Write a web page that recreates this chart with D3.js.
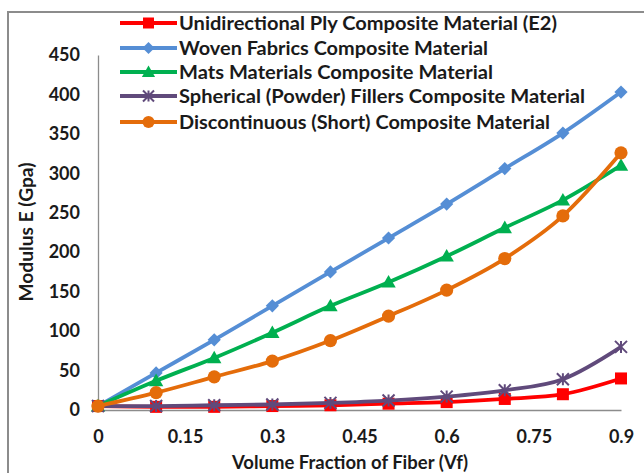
<!DOCTYPE html>
<html>
<head>
<meta charset="utf-8">
<script src="https://cdn.jsdelivr.net/npm/d3@7"></script>
<style>
  html, body { margin: 0; padding: 0; background: #fff; }
  svg { display: block; }
  text { font-family: Lato, "Open Sans", sans-serif; font-weight: bold; fill: #1a1a1a; }
</style>
</head>
<body>
<svg id="chart" width="644" height="473"></svg>
<script>
// Volume fraction of fiber (x values)
const vf = [0, 0.1, 0.2, 0.3, 0.4, 0.5, 0.6, 0.7, 0.8, 0.9];

// Modulus E (GPa) for each composite type
const unidirectional = [5, 4, 4, 5, 6, 8, 10, 14, 20, 40];
const woven = [5, 47, 89, 132, 175, 218, 261, 306, 351, 403];
const mats = [5, 37, 66, 98, 132, 162, 195, 231, 266, 310];
const spherical = [5, 5, 6, 7, 9, 12, 17, 25, 39, 80];
const discontinuous = [5, 22, 42, 62, 88, 119, 152, 192, 246, 326];

const seriesNames = [
  "Unidirectional Ply Composite Material (E2)",
  "Woven Fabrics Composite Material",
  "Mats Materials Composite Material",
  "Spherical (Powder) Fillers Composite Material",
  "Discontinuous (Short) Composite Material"
];
const seriesValues = [unidirectional, woven, mats, spherical, discontinuous];
const seriesColors = ["#ff0000", "#558ed5", "#00b050", "#604a7b", "#e46c0a"];
const seriesMarkers = ["square", "diamond", "triangle", "asterisk", "circle"];

const xTicks = [0, 0.15, 0.3, 0.45, 0.6, 0.75, 0.9];
const yTicks = [0, 50, 100, 150, 200, 250, 300, 350, 400, 450];

const FONT = 18;
const svg = d3.select("#chart");

// outer chart frame
svg.append("rect")
  .attr("x", 8).attr("y", 12)
  .attr("width", 640).attr("height", 470)
  .attr("fill", "none").attr("stroke", "#8c8c8c").attr("stroke-width", 2);

const x = d3.scaleLinear().domain([0, 0.9]).range([98, 621]);
const y = d3.scaleLinear().domain([0, 450]).range([410, 55]);

// axes
const xAxis = svg.append("g").attr("transform", `translate(0,${y(0)})`)
  .call(d3.axisBottom(x).tickValues(xTicks).tickSize(0).tickPadding(20)
    .tickFormat(d => String(+d.toFixed(2))));
const yAxis = svg.append("g").attr("transform", `translate(${x(0)},0)`)
  .call(d3.axisLeft(y).tickValues(yTicks).tickSize(0).tickPadding(18));
[xAxis, yAxis].forEach(g => {
  g.select(".domain").attr("stroke", "#8c8c8c").attr("stroke-width", 1.3);
  g.selectAll("text").style("font-size", FONT + "px").style("font-family", "Lato, sans-serif")
    .style("font-weight", "bold").attr("fill", "#1a1a1a");
});

// axis titles
svg.append("text")
  .attr("x", 350).attr("y", 469)
  .attr("text-anchor", "middle").style("font-size", FONT + "px")
  .attr("textLength", 236).attr("lengthAdjust", "spacingAndGlyphs")
  .text("Volume Fraction of Fiber (Vf)");
svg.append("text")
  .attr("transform", "translate(33,232) rotate(-90)")
  .attr("text-anchor", "middle").style("font-size", FONT + "px")
  .attr("textLength", 139).attr("lengthAdjust", "spacingAndGlyphs")
  .text("Modulus E (Gpa)");

function drawMarker(g, type, color, cx, cy, s) {
  if (type === "square") {
    g.append("rect").attr("x", cx - s / 2).attr("y", cy - s / 2)
      .attr("width", s).attr("height", s).attr("fill", color);
  } else if (type === "diamond") {
    const r = s * 0.55;
    g.append("path").attr("d", `M${cx},${cy - r}L${cx + r},${cy}L${cx},${cy + r}L${cx - r},${cy}Z`)
      .attr("fill", color);
  } else if (type === "triangle") {
    const r = s * 0.6;
    g.append("path").attr("d", `M${cx},${cy - r}L${cx + r},${cy + r * 0.75}L${cx - r},${cy + r * 0.75}Z`)
      .attr("fill", color);
  } else if (type === "asterisk") {
    const r = s * 0.5;
    g.append("path")
      .attr("d", `M${cx - r},${cy - r}L${cx + r},${cy + r}M${cx - r},${cy + r}L${cx + r},${cy - r}M${cx},${cy - r}L${cx},${cy + r}`)
      .attr("stroke", color).attr("stroke-width", 2).attr("fill", "none");
  } else if (type === "circle") {
    g.append("circle").attr("cx", cx).attr("cy", cy).attr("r", s * 0.55).attr("fill", color);
  }
}

const line = d3.line()
  .x((d, i) => x(vf[i]))
  .y(d => y(d))
  .curve(d3.curveCatmullRom.alpha(0));

seriesValues.forEach((vals, k) => {
  const g = svg.append("g");
  g.append("path").datum(vals).attr("d", line)
    .attr("fill", "none").attr("stroke", seriesColors[k])
    .attr("stroke-width", 3.8).attr("stroke-linejoin", "round");
  vals.forEach((v, i) => drawMarker(g, seriesMarkers[k], seriesColors[k], x(vf[i]), y(v), 12));
});

// legend
const legendY = [23, 48, 72, 96, 122];
const legendWidths = [378, 309, 314, 406, 371];
seriesNames.forEach((name, k) => {
  const g = svg.append("g");
  const cy = legendY[k];
  g.append("line").attr("x1", 120).attr("x2", 177).attr("y1", cy).attr("y2", cy)
    .attr("stroke", seriesColors[k]).attr("stroke-width", 3.8);
  drawMarker(g, seriesMarkers[k], seriesColors[k], 148.5, cy, 11);
  g.append("text").attr("x", 179).attr("y", cy + 6.5)
    .style("font-size", FONT + "px")
    .attr("textLength", legendWidths[k]).attr("lengthAdjust", "spacingAndGlyphs")
    .text(name);
});
</script>
</body>
</html>
